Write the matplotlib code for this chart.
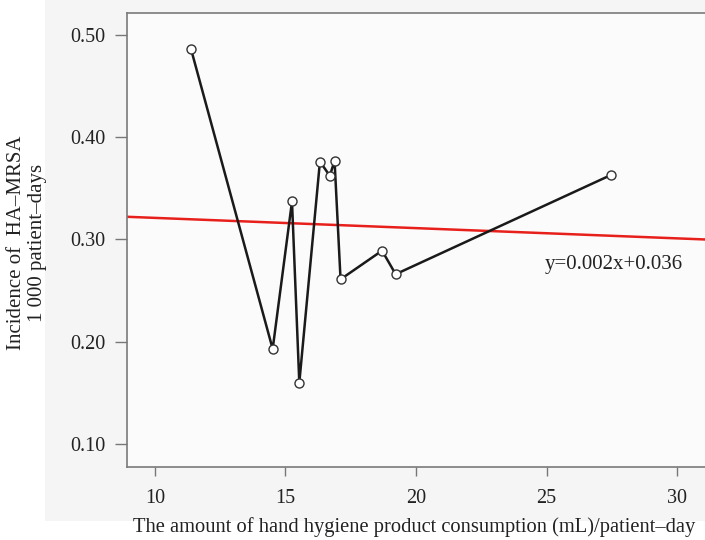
import numpy as np
import matplotlib
matplotlib.use("Agg")
import matplotlib.pyplot as plt
from matplotlib.patches import Rectangle

plt.rcParams['font.family'] = ['Liberation Serif', 'DejaVu Serif']

# consumption (mL / patient-day) and HA-MRSA incidence
consumption = [11.38, 14.51, 15.25, 15.53, 16.32, 16.70, 16.88, 17.11, 18.70, 19.22, 27.48]
incidence = [0.486, 0.193, 0.337, 0.160, 0.376, 0.362, 0.377, 0.261, 0.289, 0.266, 0.363]

# fitted line drawn on the chart
fit_slope = -0.001
fit_intercept = 0.331
fit_label = "y=0.002x+0.036"

x_ticks = [10, 15, 20, 25, 30]
y_ticks = [0.10, 0.20, 0.30, 0.40, 0.50]
y_ticklabels = ["0.10", "0.20", "0.30", "0.40", "0.50"]

fig = plt.figure(figsize=(7.05, 5.4), dpi=100)
fig.patch.set_facecolor('white')
# light grey panel behind the plot (as in the scanned figure)
fig.add_artist(Rectangle((45 / 705, 19 / 540), 1 - 45 / 705, 1 - 19 / 540,
                         transform=fig.transFigure, facecolor='#f5f5f5',
                         edgecolor='none', zorder=0))

ax = fig.add_axes([127 / 705, 73 / 540, 1 - 127 / 705, (467 - 12.5) / 540])
ax.set_facecolor('#fbfbfb')

xlim = (8.93, 31.07)
ax.set_xlim(*xlim)
ax.set_ylim(0.0778, 0.5215)

xs = np.array(xlim)
ax.plot(xs, fit_slope * xs + fit_intercept, color='#e8201c', lw=1.8, zorder=2)

ax.plot(consumption, incidence, color='#1a1a1a', lw=1.8, zorder=3)
ax.plot(consumption, incidence, ls='none', marker='o', ms=6.5,
        mfc='white', mec='#333333', mew=1.0, zorder=4)

ax.text(27.59, 0.275, fit_label, ha='center', va='center', fontsize=15, color='#222222')

ax.set_xticks(x_ticks)
ax.set_yticks(y_ticks)
ax.set_yticklabels(y_ticklabels)
ax.tick_params(axis='both', colors='#777777', labelcolor='#222222', labelsize=14.5)
ax.tick_params(axis='x', length=6.7, width=1.0, pad=9)
ax.tick_params(axis='y', length=8.6, width=1.0, pad=7)

for side in ['left', 'bottom', 'top']:
    ax.spines[side].set_color('#7a7a7a')
    ax.spines[side].set_linewidth(1.2)
ax.spines['right'].set_visible(False)

fig.text(17 / 705, 1 - 243 / 540, "Incidence of  HA\u2013MRSA", rotation=90,
         ha='center', va='center', fontsize=15, color='#222222')
fig.text(38 / 705, 1 - 243 / 540, "1 000 patient\u2013days", rotation=90,
         ha='center', va='center', fontsize=15, color='#222222')

fig.text(414 / 705, 1 - 527 / 540,
         "The amount of hand hygiene product consumption (mL)/patient\u2013day",
         ha='center', va='center', fontsize=14.8, color='#222222')

fig.savefig("out.png", dpi=100)
